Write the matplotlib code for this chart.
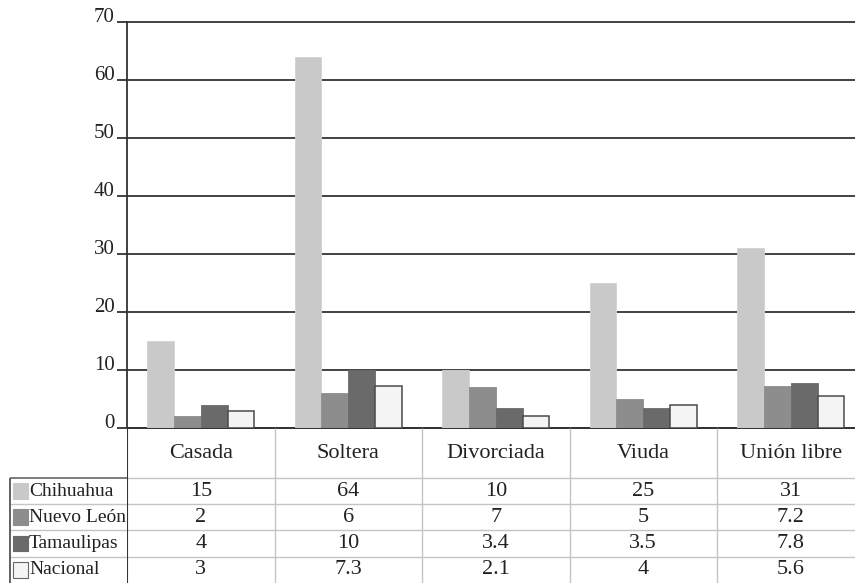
import numpy as np
import matplotlib.pyplot as plt
from matplotlib.patches import Rectangle

# datos
categorias = ['Casada', 'Soltera', 'Divorciada', 'Viuda', 'Unión libre']
series = ['Chihuahua', 'Nuevo León', 'Tamaulipas', 'Nacional']
chihuahua = [15, 64, 10, 25, 31]
nuevo_leon = [2, 6, 7, 5, 7.2]
tamaulipas = [4, 10, 3.4, 3.5, 7.8]
nacional = [3, 7.3, 2.1, 4, 5.6]
yticks = [0, 10, 20, 30, 40, 50, 60, 70]

valores = [chihuahua, nuevo_leon, tamaulipas, nacional]
colores = ['#c9c9c9', '#8d8d8d', '#6a6a6a', '#f3f4f3']
bordes = ['#d2d2d2', '#8d8d8d', '#6a6a6a', '#4a4a4a']

plt.rcParams['font.family'] = ['Liberation Serif', 'DejaVu Serif']
oscuro = '#333333'
claro = '#c4c4c4'

W, H = 855, 583
fig = plt.figure(figsize=(W / 100, H / 100), dpi=100)
col_px = 147.5
x0 = 127 / W
ancho = 5 * col_px / W
ax = fig.add_axes([x0, 1 - 428 / H, ancho, (428 - 22) / H])

x = np.arange(len(categorias))
w = 0.182
for i, (vals, c, b) in enumerate(zip(valores, colores, bordes)):
    ax.bar(x + (i - 1.5) * w, vals, w, color=c, edgecolor=b,
           linewidth=1.1 if i == 3 else 0.6, zorder=3)

ax.set_xlim(-0.5, 4.5)
ax.set_ylim(0, 70)
ax.set_yticks(yticks)
ax.set_xticks([])
ax.yaxis.grid(True, color=oscuro, linewidth=1.3)
for g in ax.get_ygridlines():
    g.set_clip_on(False)
ax.set_axisbelow(True)
for s in ['top', 'right']:
    ax.spines[s].set_visible(False)
ax.spines['left'].set_color(oscuro)
ax.spines['left'].set_linewidth(1.3)
ax.spines['bottom'].set_color(oscuro)
ax.spines['bottom'].set_linewidth(1.3)
ax.tick_params(axis='y', length=7, width=1.3, color=oscuro, pad=2,
               labelsize=15, labelcolor='#222222')
for lab in ax.get_yticklabels():
    lab.set_verticalalignment('baseline')

# tabla de datos
tab = fig.add_axes([x0, 0, ancho, (583 - 428) / H])
tab.set_xlim(-0.5, 4.5)
tab.set_ylim(4, -1.9)
tab.axis('off')

tab.vlines(x[:-1] + 0.5, -1.9, 4, color=claro, linewidth=1)
tab.hlines([0, 1, 2, 3], -0.5, 4.5, color=claro, linewidth=1)
tab.vlines(-0.5, -1.9, 4, color=oscuro, linewidth=1.5, zorder=5)

izq = -0.5 - 117 / col_px
tab.hlines([1, 2, 3], izq, -0.5, color=claro, linewidth=1, clip_on=False)
tab.hlines(0, izq, -0.5, color='#666666', linewidth=1.2, clip_on=False)
tab.vlines(izq, 0, 4, color='#555555', linewidth=1.3, clip_on=False)

for j, cat in enumerate(categorias):
    tab.text(j, -0.92, cat, ha='center', va='center', fontsize=16,
             color='#222222')

for i, (nombre, vals, c, b) in enumerate(zip(series, valores, colores, bordes)):
    tab.add_patch(Rectangle((izq + 0.02, i + 0.2), 15 / col_px, 0.6,
                            facecolor=c, edgecolor='#666666' if i == 3 else c,
                            linewidth=0.8, clip_on=False))
    tab.text(-0.5 - 98 / col_px, i + 0.5, nombre, ha='left', va='center',
             fontsize=14, color='#222222')
    for j, v in enumerate(vals):
        tab.text(j, i + 0.5, '{:g}'.format(v), ha='center', va='center',
                 fontsize=16, color='#222222')

fig.savefig('out.png', dpi=100)
